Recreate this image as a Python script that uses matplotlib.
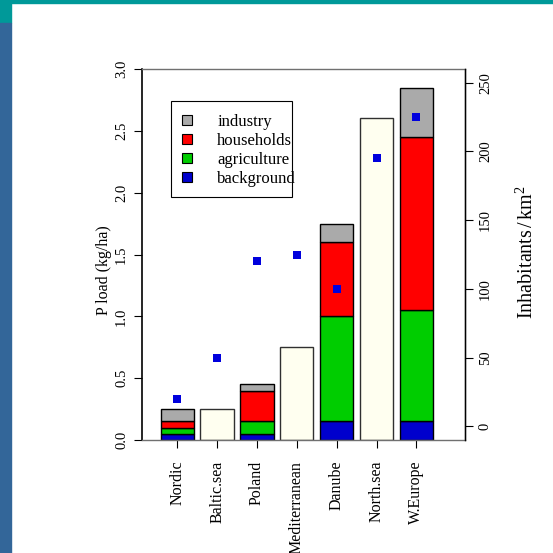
import numpy as np
import matplotlib
matplotlib.use('Agg')
import matplotlib.pyplot as plt
from matplotlib.patches import Rectangle
from matplotlib.lines import Line2D

regions = ['Nordic', 'Baltic.sea', 'Poland', 'Mediterranean', 'Danube', 'North.sea', 'W.Europe']
background = [0.05, np.nan, 0.05, np.nan, 0.15, np.nan, 0.15]
agriculture = [0.05, np.nan, 0.10, np.nan, 0.85, np.nan, 0.90]
households = [0.05, np.nan, 0.25, np.nan, 0.60, np.nan, 1.40]
industry = [0.10, np.nan, 0.05, np.nan, 0.15, np.nan, 0.40]
total_only = [np.nan, 0.25, np.nan, 0.75, np.nan, 2.60, np.nan]
inhabitants = [20, 50, 120, 125, 100, 195, 225]

plt.rcParams['font.family'] = ['Liberation Serif', 'DejaVu Serif']
plt.rcParams['mathtext.fontset'] = 'custom'
plt.rcParams['mathtext.rm'] = 'Liberation Serif'
plt.rcParams['mathtext.it'] = 'Liberation Serif:italic'

W, H = 553, 553
fig = plt.figure(figsize=(W / 100, H / 100), dpi=100)

# slide decoration
fig.patches.append(Rectangle((0, 1 - 3 / H), 1, 3 / H, transform=fig.transFigure,
                             color='#009999', zorder=0))
fig.patches.append(Rectangle((0, 1 - 23 / H), 11 / W, 23 / H, transform=fig.transFigure,
                             color='#009999', zorder=0))
fig.patches.append(Rectangle((0, 0), 11 / W, 1 - 23 / H, transform=fig.transFigure,
                             color='#336699', zorder=0))

ax = fig.add_axes([142 / W, 1 - 440 / H, (465 - 142) / W, (440 - 69) / H])
ax.set_facecolor('none')

x = 0.7 + 1.2 * np.arange(len(regions))
cols = {'background': '#0000CD', 'agriculture': '#00CD00',
        'households': '#FF0000', 'industry': '#AAAAAA'}

bottom = np.zeros(len(regions))
for name, vals in [('background', background), ('agriculture', agriculture),
                   ('households', households), ('industry', industry)]:
    v = np.array(vals)
    ax.bar(x, v, width=1.0, bottom=bottom, color=cols[name], edgecolor='black',
           linewidth=1.0, zorder=2)
    bottom = bottom + np.nan_to_num(v)
ax.bar(x, total_only, width=1.0, color='#FFFFF0', edgecolor='#303030',
       linewidth=1.0, zorder=2)

ax.set_xlim(-0.36, 9.36)
ax.set_ylim(0, 3.0)
ax.set_xticks(x)
ax.set_xticklabels(regions, rotation=90, fontsize=11.5)
ax.set_yticks([0, 0.5, 1.0, 1.5, 2.0, 2.5, 3.0])
ax.set_yticklabels(['0.0', '0.5', '1.0', '1.5', '2.0', '2.5', '3.0'],
                   rotation=90, va='center', fontsize=10.5)
ax.tick_params(direction='out', length=6, width=0.8, pad=4)
ax.tick_params(axis='x', pad=9)
for s in ['top', 'right', 'bottom']:
    ax.spines[s].set_color('#707070')
    ax.spines[s].set_linewidth(1.0)
ax.spines['left'].set_color('black')
ax.spines['left'].set_linewidth(1.2)
ax.set_ylabel('P load (kg/ha)', fontsize=11.5)
ax.yaxis.set_label_coords((112 - 142) / 323, (440 - 270) / 371)

ax2 = ax.twinx()
ax2.scatter(x, inhabitants, marker='s', s=26, color='#0000DD', linewidths=0, zorder=3)
ax2.set_ylim(-10, 260)
ax2.set_yticks([0, 50, 100, 150, 200, 250])
ax2.set_yticklabels(['0', '50', '100', '150', '200', '250'],
                    rotation=90, va='center', fontsize=10.5)
ax2.tick_params(direction='out', length=6, width=0.8, pad=4)
for s in ax2.spines.values():
    s.set_visible(False)
ax2.spines['right'].set_visible(True)
ax2.spines['right'].set_color('black')
ax2.spines['right'].set_linewidth(1.0)
ax2.set_ylabel('Inhabitants$\\,$/$\\,$km$^2$', fontsize=14.5)
ax2.yaxis.set_label_coords((517 - 142) / 323, (440 - 252) / 371)

# legend: frame drawn separately so it hugs the text like R's legend()
ax2.add_patch(Rectangle((171 / W, 1 - 197 / H), (292 - 171) / W, (197 - 101) / H,
                        transform=fig.transFigure, facecolor='white',
                        edgecolor='black', linewidth=0.8, zorder=4, clip_on=False))
handles = [Line2D([], [], linestyle='none', marker='s', markersize=7.5,
                  markerfacecolor=cols[k], markeredgecolor='black', markeredgewidth=0.8)
           for k in ['industry', 'households', 'agriculture', 'background']]
leg = ax2.legend(handles, ['industry', 'households', 'agriculture', 'background'],
                 loc='upper left', bbox_to_anchor=(179 / W, 1 - 114 / H),
                 bbox_transform=fig.transFigure, fontsize=12, frameon=False,
                 borderpad=0, labelspacing=0.18, handletextpad=1.3,
                 handlelength=1.0, borderaxespad=0)
leg.set_zorder(5)

fig.savefig('out.png', dpi=100)
